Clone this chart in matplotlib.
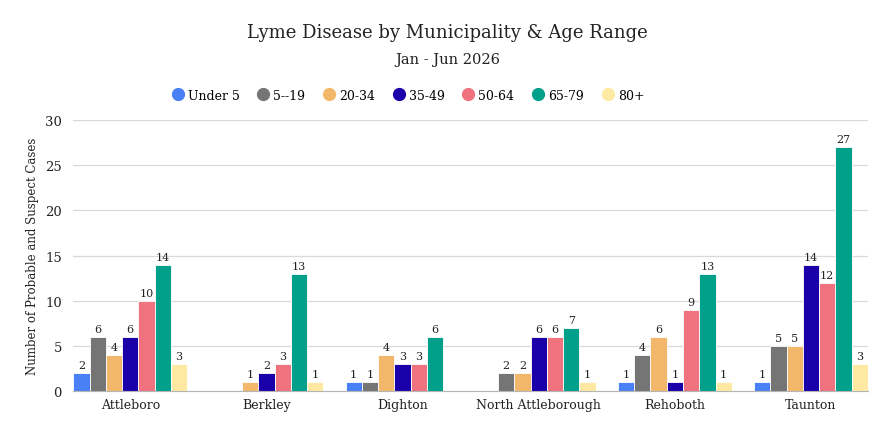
import matplotlib.pyplot as plt
import numpy as np

plt.rcParams['font.family'] = 'DejaVu Serif'

towns = ['Attleboro', 'Berkley', 'Dighton', 'North Attleborough', 'Rehoboth', 'Taunton']
ages = ['Under 5', '5--19', '20-34', '35-49', '50-64', '65-79', '80+']

# cases per age range, one list per age group (None = no bar)
under5 = [2, None, 1, None, 1, 1]
a5_19 = [6, None, 1, 2, 4, 5]
a20_34 = [4, 1, 4, 2, 6, 5]
a35_49 = [6, 2, 3, 6, 1, 14]
a50_64 = [10, 3, 3, 6, 9, 12]
a65_79 = [14, 13, 6, 7, 13, 27]
a80 = [3, 1, None, 1, 1, 3]

series = [under5, a5_19, a20_34, a35_49, a50_64, a65_79, a80]
colors = ['#4a80f5', '#757575', '#f3b76c', '#1a00a8', '#ef737e', '#00a08b', '#fde9a1']

fig = plt.figure(figsize=(8.95, 4.39), dpi=100)
ax = fig.add_axes([0.0816, 0.107, 0.970 - 0.0816, 0.7244 - 0.107])

x = np.arange(len(towns))
w = 0.1196
for k, (vals, col) in enumerate(zip(series, colors)):
    v = np.array([np.nan if a is None else a for a in vals], dtype=float)
    xpos = x + (k - 3) * w
    ax.bar(xpos, v, w, color=col, edgecolor='white', linewidth=0.6, zorder=3,
           label=ages[k])
    for xp, val in zip(xpos, vals):
        if val is not None:
            ax.text(xp, val + 0.3, str(val), ha='center', va='bottom',
                    fontsize=8, color='#222222', zorder=4)

ax.set_xlim(-0.42, 5.42)
ax.set_ylim(0, 30)
ax.set_yticks(range(0, 31, 5))
ax.set_xticks(x)
ax.set_xticklabels(towns, fontsize=9, color='#222222')
ax.tick_params(axis='y', labelsize=9.5, colors='#222222', length=0, pad=8)
ax.tick_params(axis='x', length=0, pad=5)
ax.grid(axis='y', color='#d9d9d9', linewidth=0.9, zorder=0)
for s in ['top', 'right', 'left']:
    ax.spines[s].set_visible(False)
ax.spines['bottom'].set_color('#b5b5b5')
ax.spines['bottom'].set_zorder(5)

ax.set_ylabel('Number of Probable and Suspect Cases', fontsize=8.5, color='#222222')

fig.text(0.5, 0.925, 'Lyme Disease by Municipality & Age Range', ha='center',
         va='center', fontsize=13, color='#222222')
fig.text(0.5, 0.863, 'Jan - Jun 2026', ha='center', va='center',
         fontsize=10.5, color='#222222')

handles = [plt.Line2D([], [], marker='o', linestyle='', markersize=8.5,
                      markerfacecolor=c, markeredgecolor=c) for c in colors]
fig.legend(handles, ages, loc='center', bbox_to_anchor=(0.455, 0.781), ncol=7,
           frameon=False, fontsize=9, handletextpad=0.2, columnspacing=1.3,
           handlelength=1.2)

fig.savefig('out.png', dpi=100)
